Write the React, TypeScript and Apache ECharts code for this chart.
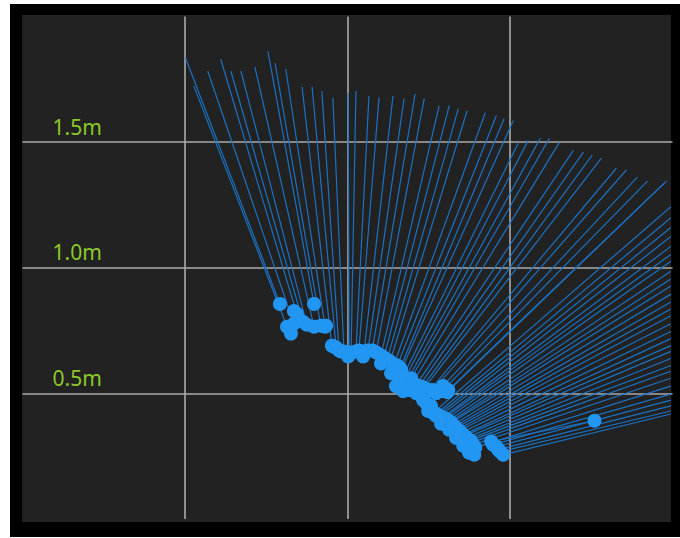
import React, { useEffect, useRef } from "react";
import * as echarts from "echarts";

// y tick labels (metres)
const yTicks = [0.5, 1.0, 1.5];

// Scan hits that emit a ray (metres), group A (upward), B (up-right), C (toward right edge)
const hitAX = [-0.208, -0.186, -0.165, -0.156, -0.137, -0.125, -0.103, -0.103, -0.082, -0.069, -0.048, -0.035, -0.026, -0.011, 0.005, 0.011, 0.026, 0.035, 0.051, 0.063, 0.076, 0.088, 0.103, 0.112, 0.122, 0.131, 0.143, 0.153, 0.162, 0.165];
const hitAY = [0.856, 0.765, 0.777, 0.817, 0.785, 0.773, 0.765, 0.856, 0.769, 0.765, 0.69, 0.682, 0.671, 0.667, 0.659, 0.663, 0.667, 0.671, 0.667, 0.671, 0.671, 0.663, 0.651, 0.643, 0.635, 0.627, 0.615, 0.611, 0.6, 0.592];
const endAX = [-0.498, -0.473, -0.43, -0.39, -0.359, -0.328, -0.285, -0.245, -0.223, -0.19, -0.14, -0.109, -0.079, -0.045, 0.002, 0.026, 0.066, 0.097, 0.14, 0.174, 0.208, 0.236, 0.282, 0.313, 0.341, 0.368, 0.424, 0.458, 0.482, 0.51];
const endAY = [1.834, 1.724, 1.783, 1.83, 1.783, 1.783, 1.799, 1.862, 1.815, 1.791, 1.72, 1.72, 1.704, 1.677, 1.696, 1.704, 1.684, 1.677, 1.684, 1.673, 1.692, 1.673, 1.645, 1.645, 1.633, 1.625, 1.617, 1.606, 1.594, 1.586];

const hitBX = [0.165, 0.174, 0.186, 0.196, 0.199, 0.211, 0.22, 0.23, 0.236, 0.254, 0.263, 0.279, 0.291, 0.307, 0.31];
const hitBY = [0.552, 0.552, 0.556, 0.56, 0.54, 0.533, 0.529, 0.525, 0.521, 0.513, 0.513, 0.509, 0.509, 0.505, 0.513];
const endBX = [0.525, 0.556, 0.593, 0.621, 0.652, 0.695, 0.726, 0.753, 0.781, 0.827, 0.858, 0.892, 0.923, 0.975, 0.981];
const endBY = [1.495, 1.507, 1.515, 1.515, 1.499, 1.467, 1.46, 1.448, 1.436, 1.396, 1.389, 1.361, 1.345, 1.337, 1.345];

const hitCX = [0.263, 0.273, 0.279, 0.285, 0.291, 0.297, 0.304, 0.31, 0.316, 0.319, 0.325, 0.328, 0.334, 0.337, 0.344, 0.35, 0.356, 0.359, 0.365, 0.371, 0.378, 0.381, 0.387, 0.393, 0.448, 0.458, 0.464, 0.47, 0.479, 0.442];
const hitCY = [0.422, 0.418, 0.414, 0.41, 0.402, 0.402, 0.398, 0.391, 0.387, 0.383, 0.375, 0.367, 0.363, 0.355, 0.351, 0.343, 0.335, 0.331, 0.323, 0.316, 0.312, 0.304, 0.296, 0.284, 0.296, 0.288, 0.276, 0.268, 0.256, 0.308];
const endCX = [0.995, 0.995, 0.995, 0.995, 0.995, 0.995, 0.995, 0.995, 0.995, 0.995, 0.995, 0.995, 0.995, 0.995, 0.995, 0.995, 0.995, 0.995, 0.995, 0.995, 0.995, 0.995, 0.995, 0.995, 0.995, 0.995, 0.995, 0.995, 0.995, 0.76];
const endCY = [1.243, 1.199, 1.16, 1.124, 1.085, 1.053, 1.026, 0.986, 0.955, 0.927, 0.895, 0.864, 0.836, 0.809, 0.777, 0.746, 0.718, 0.69, 0.667, 0.639, 0.611, 0.588, 0.56, 0.529, 0.497, 0.473, 0.45, 0.43, 0.418, 0.391];

// Scan hits without a visible ray of their own
const extraX = [-0.165, -0.174, -0.066, -0.042, -0.02, 0.002, 0.048, 0.103, 0.134, 0.149, 0.156, 0.159, 0.171, 0.19, 0.196, 0.205, 0.211, 0.227, 0.233, 0.242, 0.248, 0.257, 0.257, 0.273, 0.273, 0.288, 0.294, 0.313, 0.334, 0.356, 0.374, 0.39, 0.76];
const extraY = [0.828, 0.738, 0.769, 0.686, 0.667, 0.647, 0.647, 0.619, 0.58, 0.529, 0.533, 0.568, 0.509, 0.513, 0.513, 0.533, 0.501, 0.489, 0.473, 0.462, 0.43, 0.43, 0.45, 0.41, 0.501, 0.379, 0.529, 0.355, 0.323, 0.292, 0.264, 0.256, 0.391];

export default function App() {
  const ref = useRef<HTMLDivElement>(null);

  useEffect(() => {
    if (!ref.current) return;
    const chart = echarts.init(ref.current, null, { renderer: "svg" });

    const hx = [...hitAX, ...hitBX, ...hitCX];
    const hy = [...hitAY, ...hitBY, ...hitCY];
    const ex = [...endAX, ...endBX, ...endCX];
    const ey = [...endAY, ...endBY, ...endCY];

    const rays = hx.map((x, i) => ({ coords: [[x, hy[i]], [ex[i], ey[i]]] }));
    const dots = [
      ...hx.map((x, i) => [x, hy[i]]),
      ...extraX.map((x, i) => [x, extraY[i]]),
    ];

    const gridLine = { show: true, showMinLine: false, showMaxLine: false, lineStyle: { color: "#ababab", width: 1.6 } };

    chart.setOption({
      animation: false,
      backgroundColor: "transparent",
      grid: { left: 22.5, top: 16.5, width: 650, height: 502.5, show: false },
      xAxis: {
        type: "value",
        min: -1,
        max: 1,
        interval: 0.5,
        axisLine: { show: false },
        axisTick: { show: false },
        axisLabel: { show: false },
        splitLine: gridLine,
      },
      yAxis: {
        type: "value",
        min: 0,
        max: 2,
        interval: 0.5,
        axisLine: { show: false },
        axisTick: { show: false },
        splitLine: gridLine,
        axisLabel: {
          inside: true,
          margin: 30,
          showMinLabel: false,
          showMaxLabel: false,
          verticalAlign: "bottom",
          color: "#8cc828",
          fontSize: 21,
          fontFamily: "Noto Sans",
          padding: [0, 0, 5, 0],
          formatter: (v: number) => (yTicks.some((t) => Math.abs(t - v) < 1e-6) ? v.toFixed(1) + "m" : ""),
        },
      },
      series: [
        {
          type: "lines",
          coordinateSystem: "cartesian2d",
          silent: true,
          z: 2,
          lineStyle: { color: "#1b72c4", width: 1.2, opacity: 1 },
          data: rays,
        },
        {
          type: "scatter",
          silent: true,
          z: 3,
          symbol: "circle",
          symbolSize: 14,
          itemStyle: { color: "#2196f3", opacity: 1 },
          data: dots,
        },
      ],
    });

    return () => chart.dispose();
  }, []);

  return (
    <div style={{ position: "absolute", left: 0, top: 0, width: 680, height: 538, background: "#fff" }}>
      <div style={{ position: "absolute", left: 10, top: 4, width: 670, height: 533, background: "#000" }} />
      <div style={{ position: "absolute", left: 22, top: 15, width: 649, height: 507, background: "#222" }} />
      <div ref={ref} style={{ position: "absolute", left: 0, top: 0, width: 680, height: 538 }} />
    </div>
  );
}
